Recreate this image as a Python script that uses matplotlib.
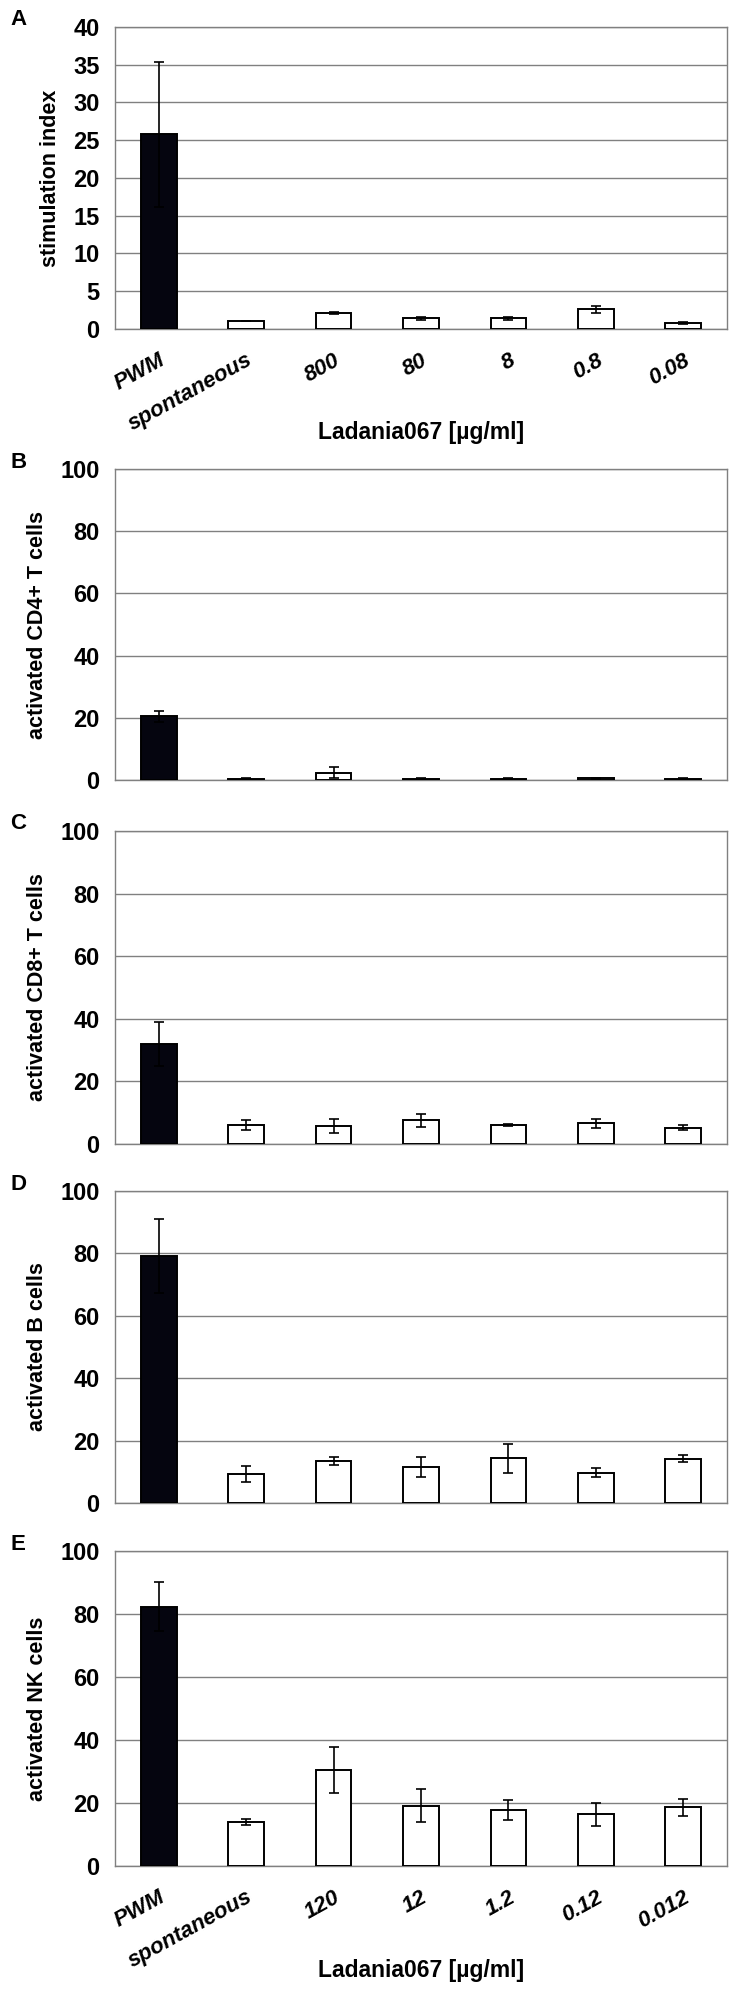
import matplotlib
matplotlib.use("Agg")
import matplotlib.pyplot as plt
import numpy as np

plt.rcParams['font.family'] = ['Liberation Sans', 'DejaVu Sans']

# categories
labels_A = ["PWM", "spontaneous", "800", "80", "8", "0.8", "0.08"]
labels_E = ["PWM", "spontaneous", "120", "12", "1.2", "0.12", "0.012"]

# panel A: stimulation index
si_mean = [25.8, 1.0, 2.1, 1.4, 1.4, 2.6, 0.8]
si_err = [9.6, 0.0, 0.15, 0.15, 0.15, 0.45, 0.15]

# panel B: activated CD4+ T cells
cd4_mean = [20.5, 0.4, 2.4, 0.4, 0.4, 0.5, 0.4]
cd4_err = [1.8, 0.1, 1.9, 0.1, 0.1, 0.3, 0.1]

# panel C: activated CD8+ T cells
cd8_mean = [32.0, 6.1, 5.7, 7.5, 6.1, 6.6, 5.2]
cd8_err = [7.1, 1.5, 2.2, 2.2, 0.4, 1.4, 0.9]

# panel D: activated B cells
b_mean = [79.2, 9.3, 13.4, 11.6, 14.3, 9.7, 14.2]
b_err = [11.8, 2.6, 1.2, 3.3, 4.7, 1.4, 1.2]

# panel E: activated NK cells
nk_mean = [82.4, 14.0, 30.4, 19.2, 17.8, 16.4, 18.6]
nk_err = [7.8, 1.0, 7.3, 5.2, 3.3, 3.7, 2.6]

panels = [
    ("A", si_mean, si_err, "stimulation index", 40, 5, labels_A, (0.1513, 0.8352)),
    ("B", cd4_mean, cd4_err, "activated CD4+ T cells", 100, 20, None, (0.1558, 0.6092)),
    ("C", cd8_mean, cd8_err, "activated CD8+ T cells", 100, 20, None, (0.1568, 0.4269)),
    ("D", b_mean, b_err, "activated B cells", 100, 20, None, (0.1563, 0.2470)),
    ("E", nk_mean, nk_err, "activated NK cells", 100, 20, labels_E, (0.1578, 0.0651)),
]

fig = plt.figure(figsize=(7.38, 19.96), dpi=100)
grid_col = "#808080"

for letter, mean, err, ylab, ymax, step, xlabels, (h, b) in panels:
    ax = fig.add_axes([0.1558, b, 0.8293, h])
    x = np.arange(len(mean))
    colors = ["#05050f"] + ["white"] * (len(mean) - 1)
    ax.bar(x, mean, width=0.41, color=colors, edgecolor="black", linewidth=1.4, zorder=3)
    ax.errorbar(x, mean, yerr=err, fmt="none", ecolor="black", elinewidth=1.2,
                capsize=3.5, capthick=1.2, zorder=4)
    ax.set_xlim(-0.5, len(mean) - 0.5)
    ax.set_ylim(0, ymax)
    ax.set_yticks(np.arange(0, ymax + 1, step))
    ax.yaxis.grid(True, color=grid_col, linewidth=1.0, zorder=0)
    ax.set_axisbelow(True)
    for s in ax.spines.values():
        s.set_color(grid_col)
        s.set_linewidth(1.0)
    ax.tick_params(axis="y", length=0, labelsize=17, pad=11)
    for t in ax.get_yticklabels():
        t.set_fontweight("bold")
    ax.set_ylabel(ylab, fontsize=15.5, fontweight="bold", labelpad=9)
    if xlabels is not None:
        ax.set_xticks(x)
        ax.tick_params(axis="x", length=0, pad=15)
        ax.set_xticklabels(xlabels, rotation=29, ha="right", rotation_mode="anchor",
                           fontsize=16, fontweight="bold", style="italic")
        ax.set_xlabel("Ladania067 [µg/ml]", fontsize=16.5, fontweight="bold", va="center")
        # label sits about 104 px below the axis bottom
        ax.xaxis.set_label_coords(0.5, -104 / (h * 1996))
    else:
        ax.set_xticks([])
    fig.text(0.014, b + h + 7 / 1996, letter, fontsize=16, fontweight="bold", va="center")

fig.savefig("out.png", dpi=100)
